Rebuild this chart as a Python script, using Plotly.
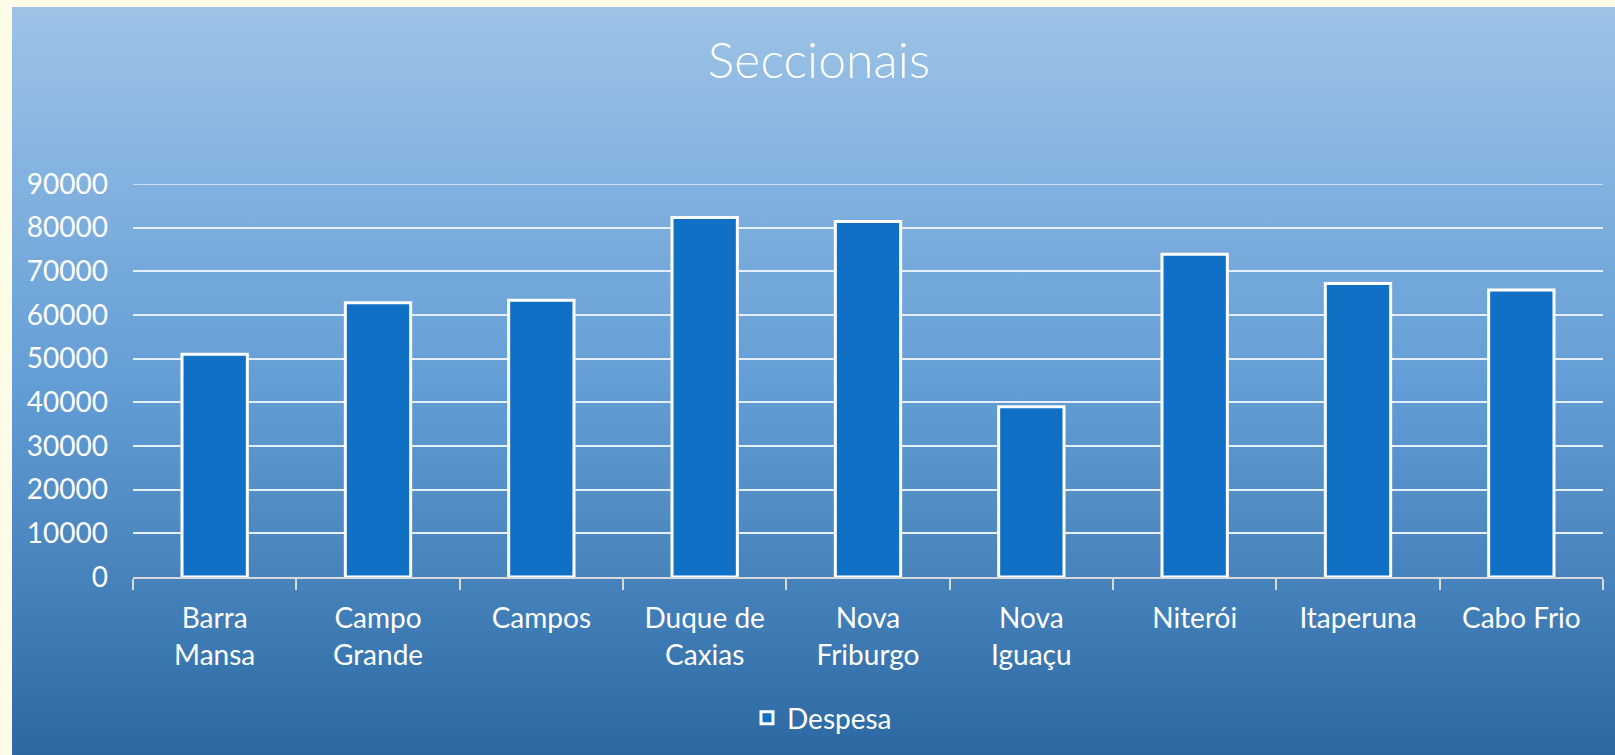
import base64
import plotly.graph_objects as go

categories = ["Barra<br>Mansa", "Campo<br>Grande", "Campos", "Duque de<br>Caxias", "Nova<br>Friburgo",
              "Nova<br>Iguaçu", "Niterói", "Itaperuna", "Cabo Frio"]
despesa = [51000, 62800, 63400, 82300, 81400, 39000, 73900, 67200, 65700]
y_ticks = [0, 10000, 20000, 30000, 40000, 50000, 60000, 70000, 80000, 90000]
y_tick_labels = [str(v) for v in y_ticks]

W, H = 1615, 755
L, R, T, B = 133, 12, 184, 178
pw, ph = W - L - R, H - T - B

def px_x(p):
    return (p - L) / pw

def px_y(p):
    return (H - B - p) / ph

FONT = "Lato"

fig = go.Figure()
fig.add_trace(go.Bar(
    x=categories, y=despesa, name="Despesa",
    marker=dict(color="#1070C6", line=dict(color="white", width=3)),
))

svg = (
    f'<svg xmlns="http://www.w3.org/2000/svg" width="{W}" height="{H}" viewBox="0 0 {W} {H}" '
    f'preserveAspectRatio="none">'
    f'<defs><linearGradient id="g" x1="0" y1="0" x2="0" y2="1">'
    f'<stop offset="0" stop-color="rgb(157,195,230)"/>'
    f'<stop offset="0.5" stop-color="rgb(100,158,214)"/>'
    f'<stop offset="1" stop-color="rgb(44,105,163)"/>'
    f'</linearGradient></defs>'
    f'<rect x="0" y="0" width="{W}" height="{H}" fill="#FEFBE6"/>'
    f'<rect x="12" y="7" width="{W - 12}" height="{H - 7}" fill="url(#g)"/>'
    f'</svg>'
)
src = "data:image/svg+xml;base64," + base64.b64encode(svg.encode()).decode()

fig.add_layout_image(dict(
    source=src, xref="paper", yref="paper", x=px_x(0), y=px_y(0),
    sizex=W / pw, sizey=H / ph, xanchor="left", yanchor="top",
    sizing="stretch", layer="below",
))

# top gridline at the axis maximum (Plotly omits gridlines on the plot edge)
fig.add_shape(type="line", xref="paper", yref="y", x0=0, x1=1, y0=y_ticks[-1], y1=y_ticks[-1],
              line=dict(color="#E6EEF7", width=1.5), layer="below")

fig.update_layout(
    width=W, height=H,
    margin=dict(l=L, r=R, t=T, b=B, pad=0),
    paper_bgcolor="#FEFBE6", plot_bgcolor="rgba(0,0,0,0)",
    bargap=0.6,
    font=dict(family=FONT, color="white", size=28),
    title=dict(text="Seccionais", x=819 / W, xanchor="center", y=1 - 60 / H, yanchor="middle",
               font=dict(family=FONT, size=50, color="white", weight=300)),
    showlegend=True,
    legend=dict(orientation="h", x=822 / W, xanchor="center", xref="container", yref="container",
                y=1 - 718 / H, yanchor="middle", font=dict(size=28, color="white"),
                bgcolor="rgba(0,0,0,0)"),
    xaxis=dict(showgrid=False, showline=True, linecolor="#D9D9D9", linewidth=1.5,
               ticks="outside", tickson="boundaries", ticklen=11, tickcolor="#D9D9D9", tickwidth=1.5,
               tickfont=dict(size=28, color="white"), ticklabelstandoff=16),
    yaxis=dict(range=[0, 90000], tickvals=y_ticks, ticktext=y_tick_labels, showgrid=True,
               gridcolor="#E6EEF7", gridwidth=1.5,
               zeroline=False, showline=False, ticks="", tickfont=dict(size=28, color="white"),
               ticklabelstandoff=24),
)

fig.write_html("out.html", config={"displayModeBar": False},
               post_script="document.body.style.margin='0';document.body.style.overflow='hidden';")
